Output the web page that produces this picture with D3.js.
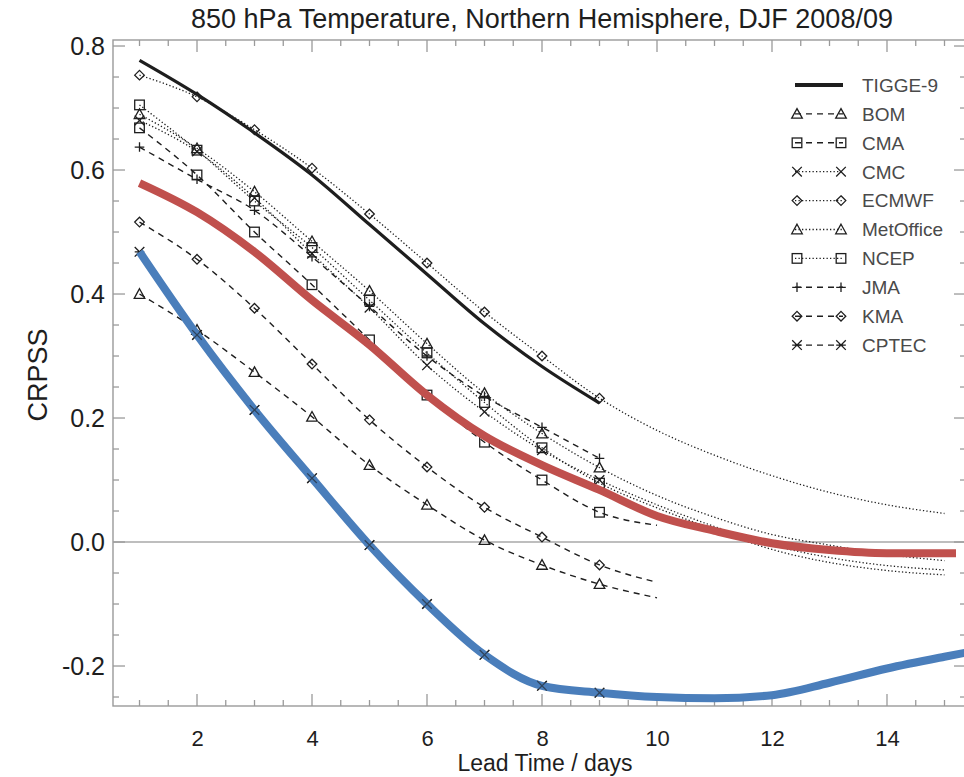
<!DOCTYPE html>
<html>
<head>
<meta charset="utf-8">
<script src="https://cdn.jsdelivr.net/npm/d3@7"></script>
<style>
  html, body { margin: 0; padding: 0; background: #fff; }
  svg { display: block; }
  text { font-family: "Liberation Sans", Arial, Helvetica, sans-serif; }
</style>
</head>
<body>
<svg id="chart" width="964" height="777"></svg>
<script>
// ---------------- data ----------------
const chartTitle = "850 hPa Temperature, Northern Hemisphere, DJF 2008/09";
const xLabel = "Lead Time / days";
const yLabel = "CRPSS";
const xTickValues = [2, 4, 6, 8, 10, 12, 14];
const yTickValues = [-0.2, 0.0, 0.2, 0.4, 0.6, 0.8];
const yTickLabels = ["-0.2", "0.0", "0.2", "0.4", "0.6", "0.8"];

const legendNames = ["TIGGE-9", "BOM", "CMA", "CMC", "ECMWF", "MetOffice", "NCEP", "JMA", "KMA", "CPTEC"];

// values by lead time (day 1, 2, 3, ...)
const tigge9    = [0.777, 0.722, 0.660, 0.592, 0.512, 0.432, 0.352, 0.283, 0.224];
const bom       = [0.400, 0.342, 0.274, 0.202, 0.124, 0.060, 0.003, -0.037, -0.068, -0.090];
const cma       = [0.668, 0.592, 0.500, 0.415, 0.326, 0.237, 0.161, 0.100, 0.048, 0.027];
const cmc       = [0.680, 0.630, 0.555, 0.465, 0.378, 0.285, 0.210, 0.148, 0.100, 0.060, 0.025, -0.005, -0.025, -0.038, -0.045];
const ecmwf     = [0.753, 0.718, 0.665, 0.603, 0.529, 0.450, 0.371, 0.300, 0.232, 0.180, 0.140, 0.107, 0.080, 0.060, 0.046];
const metoffice = [0.690, 0.635, 0.565, 0.485, 0.405, 0.320, 0.240, 0.175, 0.120, 0.075, 0.040, 0.012, -0.005, -0.020, -0.030];
const ncep      = [0.705, 0.632, 0.550, 0.475, 0.390, 0.305, 0.225, 0.152, 0.095, 0.055, 0.020, -0.012, -0.033, -0.046, -0.053];
const jma       = [0.637, 0.585, 0.535, 0.460, 0.380, 0.300, 0.235, 0.185, 0.135];
const kma       = [0.516, 0.456, 0.377, 0.287, 0.197, 0.121, 0.056, 0.008, -0.037, -0.065];
const cptec     = [0.468, 0.334, 0.213, 0.103, -0.005, -0.100, -0.182, -0.232, -0.243];

// highlighted overlay curves
const redDays   = [1, 2, 3, 4, 5, 6, 7, 8, 9, 10, 11, 12, 13, 14, 15.2];
const redVals   = [0.579, 0.532, 0.468, 0.390, 0.318, 0.237, 0.171, 0.124, 0.084, 0.042, 0.018, -0.002, -0.013, -0.018, -0.018];
const blueDays  = [1, 2, 3, 4, 5, 6, 7, 8, 9, 10, 11, 12, 13, 14, 15, 15.45];
const blueVals  = [0.468, 0.334, 0.213, 0.103, -0.005, -0.100, -0.182, -0.232, -0.243, -0.250, -0.252, -0.247, -0.227, -0.204, -0.185, -0.177];

const markerDays = 9; // symbols drawn on days 1..9

// ---------------- layout ----------------
const svg = d3.select("#chart");
const L = 113, R = 966, T = 40, B = 706;
const x = d3.scaleLinear().domain([0.539, 15.374]).range([L, R]);
const y = d3.scaleLinear().domain([-0.2645, 0.8097]).range([B, T]);

const axisColor = "#9a9a9a";
const ink = "#1e1e1e";

const styles = {
  "TIGGE-9":   { dash: null,      width: 3.2, marker: null },
  "BOM":       { dash: "6,5",     width: 1.4, marker: "triangle" },
  "CMA":       { dash: "6,5",     width: 1.4, marker: "square" },
  "CMC":       { dash: "1.3,2.2", width: 1.3, marker: "cross" },
  "ECMWF":     { dash: "1.3,2.2", width: 1.3, marker: "diamond" },
  "MetOffice": { dash: "1.3,2.2", width: 1.3, marker: "triangle" },
  "NCEP":      { dash: "1.3,2.2", width: 1.3, marker: "square" },
  "JMA":       { dash: "6,5",     width: 1.4, marker: "plus" },
  "KMA":       { dash: "6,5",     width: 1.4, marker: "diamond" },
  "CPTEC":     { dash: "6,5",     width: 1.4, marker: "star" }
};
const seriesVals = {
  "TIGGE-9": tigge9, "BOM": bom, "CMA": cma, "CMC": cmc, "ECMWF": ecmwf,
  "MetOffice": metoffice, "NCEP": ncep, "JMA": jma, "KMA": kma, "CPTEC": cptec
};

// clip
svg.append("defs").append("clipPath").attr("id", "plotclip")
  .append("rect").attr("x", L).attr("y", T).attr("width", R - L).attr("height", B - T);

// ---------------- frame & ticks ----------------
const frame = svg.append("g");
frame.append("rect").attr("x", L).attr("y", T).attr("width", R - L).attr("height", B - T)
  .attr("fill", "none").attr("stroke", axisColor).attr("stroke-width", 1.4);

// zero line
frame.append("line").attr("x1", L).attr("x2", R).attr("y1", y(0)).attr("y2", y(0))
  .attr("stroke", "#a8a8a8").attr("stroke-width", 1.4);

const xMinor = d3.range(1, 15.3, 0.5);
const yMinor = d3.range(-0.25, 0.81, 0.05).map(v => Math.round(v * 100) / 100);
const isXMajor = v => Math.abs(v / 2 - Math.round(v / 2)) < 1e-6;
const isYMajor = v => Math.abs(v / 0.2 - Math.round(v / 0.2)) < 1e-6;

xMinor.forEach(v => {
  const len = isXMajor(v) ? 12 : 6;
  frame.append("line").attr("x1", x(v)).attr("x2", x(v)).attr("y1", B).attr("y2", B - len)
    .attr("stroke", axisColor).attr("stroke-width", 1.3);
  frame.append("line").attr("x1", x(v)).attr("x2", x(v)).attr("y1", T).attr("y2", T + len)
    .attr("stroke", axisColor).attr("stroke-width", 1.3);
});
yMinor.forEach(v => {
  const len = isYMajor(v) ? 12 : 6;
  frame.append("line").attr("x1", L).attr("x2", L + len).attr("y1", y(v)).attr("y2", y(v))
    .attr("stroke", axisColor).attr("stroke-width", 1.3);
  frame.append("line").attr("x1", R).attr("x2", R - len).attr("y1", y(v)).attr("y2", y(v))
    .attr("stroke", axisColor).attr("stroke-width", 1.3);
});

// tick labels via d3 axes (lines hidden)
const xAxis = d3.axisBottom(x).tickValues(xTickValues).tickSize(0).tickPadding(0).tickFormat(d3.format("d"));
const gx = svg.append("g").attr("transform", `translate(0,${B})`).call(xAxis);
gx.select(".domain").remove();
gx.selectAll("text").attr("font-size", 22).attr("fill", ink).attr("y", 40).attr("dy", null)
  .style("font-family", '"Liberation Sans", Arial, sans-serif');

const yAxis = d3.axisLeft(y).tickValues(yTickValues).tickSize(0).tickPadding(0)
  .tickFormat((d, i) => yTickLabels[i]);
const gy = svg.append("g").attr("transform", `translate(${L - 8},0)`).call(yAxis);
gy.select(".domain").remove();
gy.selectAll("text").attr("font-size", 25).attr("fill", ink)
  .style("font-family", '"Liberation Sans", Arial, sans-serif');

// titles
svg.append("text").attr("x", 542).attr("y", 28).attr("text-anchor", "middle")
  .attr("font-size", 27).attr("fill", ink).text(chartTitle);
svg.append("text").attr("x", 545).attr("y", 771).attr("text-anchor", "middle")
  .attr("font-size", 23).attr("fill", ink).text(xLabel);
svg.append("text").attr("transform", `translate(47,375) rotate(-90)`).attr("text-anchor", "middle")
  .attr("font-size", 27).attr("fill", ink).text(yLabel);

// ---------------- markers ----------------
function drawMarker(g, type, cx, cy) {
  const s = 4.8;
  const common = el => el.attr("fill", "none").attr("stroke", ink).attr("stroke-width", 1.3);
  if (type === "triangle") {
    common(g.append("path").attr("d", `M${cx},${cy - s - 0.5}L${cx + s + 0.5},${cy + s - 0.5}L${cx - s - 0.5},${cy + s - 0.5}Z`));
  } else if (type === "square") {
    common(g.append("rect").attr("x", cx - s).attr("y", cy - s).attr("width", 2 * s).attr("height", 2 * s));
  } else if (type === "diamond") {
    common(g.append("path").attr("d", `M${cx},${cy - s}L${cx + s},${cy}L${cx},${cy + s}L${cx - s},${cy}Z`));
  } else if (type === "cross") {
    common(g.append("path").attr("d", `M${cx - s},${cy - s}L${cx + s},${cy + s}M${cx - s},${cy + s}L${cx + s},${cy - s}`));
  } else if (type === "plus") {
    common(g.append("path").attr("d", `M${cx - s},${cy}L${cx + s},${cy}M${cx},${cy - s}L${cx},${cy + s}`));
  } else if (type === "star") {
    common(g.append("path").attr("d", `M${cx - s},${cy - s}L${cx + s},${cy + s}M${cx - s},${cy + s}L${cx + s},${cy - s}M${cx - s},${cy}L${cx + s},${cy}`));
  }
}

// ---------------- series ----------------
const plot = svg.append("g").attr("clip-path", "url(#plotclip)");
const line = d3.line().x(d => x(d[0])).y(d => y(d[1])).curve(d3.curveMonotoneX);

const drawOrder = ["CPTEC", "BOM", "KMA", "CMA", "JMA", "NCEP", "CMC", "MetOffice", "ECMWF", "TIGGE-9"];
drawOrder.forEach(name => {
  const st = styles[name];
  const pts = seriesVals[name].map((v, i) => [i + 1, v]);
  plot.append("path").datum(pts).attr("d", line)
    .attr("fill", "none").attr("stroke", ink).attr("stroke-width", st.width)
    .attr("stroke-dasharray", st.dash);
  if (st.marker) {
    const mg = plot.append("g");
    pts.filter(p => p[0] <= markerDays).forEach(p => drawMarker(mg, st.marker, x(p[0]), y(p[1])));
  }
});

// overlays
plot.append("path").datum(redDays.map((d, i) => [d, redVals[i]])).attr("d", line)
  .attr("fill", "none").attr("stroke", "#c0504d").attr("stroke-width", 8).attr("stroke-linecap", "butt");
plot.append("path").datum(blueDays.map((d, i) => [d, blueVals[i]])).attr("d", line)
  .attr("fill", "none").attr("stroke", "#4a7ebb").attr("stroke-width", 8).attr("stroke-linecap", "butt");
// small marks visible on top of the blue curve
const bm = plot.append("g").attr("opacity", 0.6);
cptec.forEach((v, i) => { if (i > 0) drawMarker(bm, "cross", x(i + 1), y(v)); });

// ---------------- legend ----------------
const lg = svg.append("g");
const lx1 = 795, lx2 = 843, ltx = 862, ly0 = 85, ldy = 28.9;
legendNames.forEach((name, i) => {
  const st = styles[name];
  const yy = ly0 + i * ldy;
  lg.append("line").attr("x1", lx1).attr("x2", lx2).attr("y1", yy).attr("y2", yy)
    .attr("stroke", ink).attr("stroke-width", name === "TIGGE-9" ? 4 : st.width)
    .attr("stroke-dasharray", st.dash);
  if (st.marker) {
    drawMarker(lg, st.marker, lx1 + 2, yy);
    drawMarker(lg, st.marker, lx2 - 2, yy);
  }
  lg.append("text").attr("x", ltx).attr("y", yy).attr("dy", "0.36em")
    .attr("font-size", 19).attr("fill", "#4a4a4a").text(name);
});
</script>
</body>
</html>
